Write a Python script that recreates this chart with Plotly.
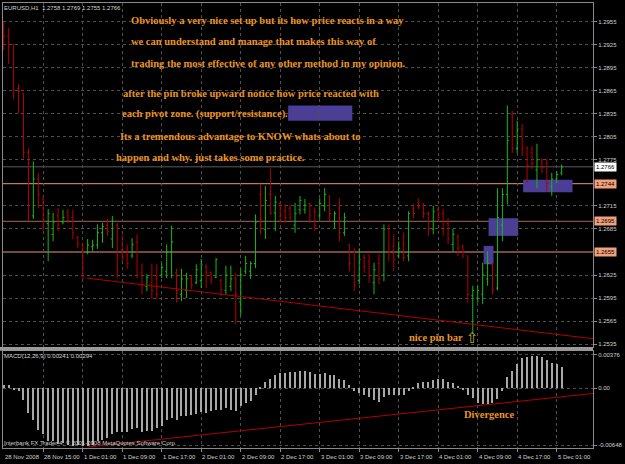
import plotly.graph_objects as go

# ---------------- data ----------------
bars = list(range(114))
opens = [1.2950,1.2936,1.2925,1.2868,1.2862,1.2785,1.2702,1.2750,1.2724,1.2692,
         1.2678,1.2702,1.2694,1.2706,1.2700,1.2674,1.2664,1.2655,1.2662,1.2664,
         1.2680,1.2690,1.2672,1.2690,1.2658,1.2650,1.2650,1.2668,1.2628,1.2610,
         1.2625,1.2620,1.2625,1.2630,1.2655,1.2628,1.2600,1.2605,1.2620,1.2615,
         1.2618,1.2636,1.2628,1.2622,1.2618,1.2605,1.2610,1.2620,1.2590,1.2630,
         1.2630,1.2640,1.2730,1.2684,1.2730,1.2706,1.2718,1.2708,1.2712,1.2690,
         1.2710,1.2710,1.2718,1.2708,1.2702,1.2715,1.2728,1.2695,1.2712,1.2680,
         1.2665,1.2655,1.2618,1.2648,1.2642,1.2615,1.2640,1.2625,1.2685,1.2662,
         1.2650,1.2665,1.2650,1.2712,1.2720,1.2715,1.2705,1.2685,1.2710,1.2705,
         1.2692,1.2665,1.2675,1.2662,1.2650,1.2598,1.2595,1.2600,1.2620,1.2638,
         1.2608,1.2690,1.2730,1.2835,1.2790,1.2815,1.2790,1.2785,1.2762,1.2775,
         1.2770,1.2740,1.2750,1.2758]
highs = [1.2955,1.2947,1.2926,1.2874,1.2862,1.2790,1.2773,1.2758,1.2728,1.2711,
         1.2706,1.2712,1.2710,1.2711,1.2710,1.2676,1.2667,1.2672,1.2671,1.2691,
         1.2693,1.2698,1.2702,1.2693,1.2678,1.2665,1.2673,1.2678,1.2640,1.2626,
         1.2640,1.2639,1.2640,1.2665,1.2689,1.2633,1.2633,1.2628,1.2624,1.2639,
         1.2646,1.2639,1.2630,1.2647,1.2620,1.2637,1.2637,1.2628,1.2633,1.2650,
         1.2643,1.2704,1.2744,1.2741,1.2764,1.2728,1.2721,1.2717,1.2717,1.2719,
         1.2728,1.2724,1.2719,1.2713,1.2725,1.2738,1.2728,1.2708,1.2725,1.2706,
         1.2665,1.2660,1.2660,1.2652,1.2652,1.2641,1.2652,1.2691,1.2691,1.2678,
         1.2669,1.2680,1.2708,1.2717,1.2724,1.2719,1.2708,1.2715,1.2715,1.2711,
         1.2699,1.2685,1.2678,1.2665,1.2650,1.2611,1.2611,1.2641,1.2656,1.2641,
         1.2738,1.2738,1.2846,1.2839,1.2826,1.2822,1.2793,1.2793,1.2796,1.2777,
         1.2777,1.2758,1.2760,1.2769]
lows = [1.2918,1.2900,1.2854,1.2836,1.2777,1.2695,1.2698,1.2712,1.2682,1.2643,
        1.2669,1.2682,1.2691,1.2693,1.2672,1.2660,1.2618,1.2652,1.2656,1.2659,
        1.2667,1.2676,1.2660,1.2622,1.2643,1.2633,1.2647,1.2621,1.2600,1.2604,
        1.2594,1.2594,1.2621,1.2621,1.2621,1.2589,1.2591,1.2595,1.2607,1.2613,
        1.2608,1.2608,1.2613,1.2621,1.2598,1.2600,1.2604,1.2561,1.2572,1.2626,
        1.2620,1.2634,1.2678,1.2672,1.2704,1.2682,1.2693,1.2693,1.2696,1.2680,
        1.2704,1.2705,1.2693,1.2682,1.2698,1.2708,1.2695,1.2686,1.2669,1.2676,
        1.2630,1.2604,1.2613,1.2628,1.2615,1.2600,1.2613,1.2617,1.2643,1.2630,
        1.2647,1.2643,1.2643,1.2699,1.2711,1.2699,1.2676,1.2678,1.2695,1.2676,
        1.2665,1.2656,1.2650,1.2647,1.2589,1.2548,1.2589,1.2587,1.2611,1.2600,
        1.2605,1.2669,1.2717,1.2784,1.2784,1.2780,1.2745,1.2763,1.2738,1.2758,
        1.2734,1.2728,1.2745,1.2755]
closes = [1.2936,1.2925,1.2866,1.2864,1.2785,1.2702,1.2750,1.2730,1.2698,1.2705,
          1.2694,1.2690,1.2700,1.2696,1.2680,1.2666,1.2655,1.2664,1.2664,1.2680,
          1.2688,1.2682,1.2695,1.2650,1.2648,1.2640,1.2665,1.2625,1.2612,1.2622,
          1.2605,1.2600,1.2635,1.2655,1.2668,1.2605,1.2620,1.2620,1.2612,1.2632,
          1.2638,1.2628,1.2620,1.2645,1.2606,1.2625,1.2620,1.2600,1.2625,1.2640,
          1.2640,1.2694,1.2698,1.2722,1.2705,1.2720,1.2702,1.2700,1.2700,1.2705,
          1.2722,1.2716,1.2702,1.2690,1.2718,1.2730,1.2705,1.2705,1.2680,1.2700,
          1.2640,1.2612,1.2645,1.2636,1.2625,1.2632,1.2620,1.2685,1.2655,1.2645,
          1.2660,1.2648,1.2705,1.2705,1.2714,1.2705,1.2685,1.2708,1.2700,1.2685,
          1.2672,1.2678,1.2660,1.2655,1.2600,1.2605,1.2605,1.2625,1.2640,1.2605,
          1.2700,1.2730,1.2800,1.2790,1.2815,1.2790,1.2768,1.2770,1.2775,1.2765,
          1.2745,1.2750,1.2756,1.2766]
macd = [0.0004,0.0004,-0.0001,-0.0003,-0.0013,-0.0028,-0.0036,-0.0047,-0.0052,-0.0059,
        -0.0060,-0.0063,-0.0062,-0.0064,-0.0065,-0.0064,-0.0065,-0.0065,-0.0064,-0.0060,
        -0.0058,-0.0056,-0.0052,-0.0049,-0.0049,-0.0049,-0.0046,-0.0045,-0.0049,-0.0048,
        -0.0048,-0.0045,-0.0042,-0.0036,-0.0034,-0.0036,-0.0031,-0.0031,-0.0030,-0.0029,
        -0.0027,-0.0028,-0.0026,-0.0024,-0.0024,-0.0022,-0.0024,-0.0025,-0.0020,-0.0017,
        -0.0014,-0.0007,0.0001,0.0007,0.0011,0.0015,0.0018,0.0018,0.0019,0.0019,
        0.0020,0.0020,0.0019,0.0016,0.0016,0.0017,0.0015,0.0015,0.0011,0.0010,
        0.0004,-0.0003,-0.0005,-0.0007,-0.0010,-0.0013,-0.0015,-0.0010,-0.0008,-0.0008,
        -0.0008,-0.0008,-0.0003,0.0002,0.0006,0.0007,0.0007,0.0009,0.0011,0.0011,
        0.0007,0.0006,0.0003,-0.0001,-0.0007,-0.0011,-0.0016,-0.0018,-0.0018,-0.0017,
        -0.0012,-0.0003,0.0013,0.0020,0.0028,0.0034,0.0036,0.0037,0.0037,0.0036,
        0.0032,0.0029,0.0028,0.00241]

time_ticks = [0, 8, 16, 24, 32, 40, 48, 56, 64, 72, 80, 88, 96, 104, 112]
time_labels = ["28 Nov 2008", "28 Nov 15:00", "1 Dec 01:00", "1 Dec 09:00", "1 Dec 17:00",
               "2 Dec 01:00", "2 Dec 09:00", "2 Dec 17:00", "3 Dec 01:00", "3 Dec 09:00",
               "3 Dec 17:00", "4 Dec 01:00", "4 Dec 09:00", "4 Dec 17:00", "5 Dec 01:00"]
price_ticks = [1.2955, 1.2925, 1.2895, 1.2865, 1.2835, 1.2805, 1.2775, 1.2715,
               1.2685, 1.2625, 1.2595, 1.2565, 1.2535]
macd_ticks = [0.00376, 0.0, -0.00648]
macd_tick_labels = ["0.00376", "0.00", "-0.00648"]

bid_price = 1.2766
levels = [1.2744, 1.2695, 1.2655]
level_colors = ["#e49a78", "#a06a52", "#e49a78"]

price_trend_bars = [16.8, 119.4]
price_trend_vals = [1.2621, 1.2542]
macd_trend_bars = [17.1, 119.4]
macd_trend_vals = [-0.00666, -0.0006]

# zones: (bar0, bar1, price_low, price_high)
zones = [(57.6, 70.6, 1.2826, 1.2846),
         (97.2, 99.2, 1.2639, 1.2663),
         (98.2, 104.2, 1.2676, 1.2699),
         (105.2, 115.2, 1.2733, 1.2749)]

notes = ["Obviously a very nice set up but its how price reacts in a way",
         "we can understand and manage that makes this way of",
         "trading the most effective of any other method in my opinion.",
         "after the pin broke upward notice how price reacted with",
         "each pivot zone. (support/resistance).",
         "Its a tremendous advantage to KNOW whats about to",
         "happen and why. just takes some practice."]

# ---------------- layout helpers ----------------
W, H = 625, 464
ML, MR, MT, MB = 2, 26, 2, 16
PW, PH = W - ML - MR, H - MT - MB


def px(X):
    return (X - ML) / PW


def py(Y):
    return (H - MB - Y) / PH


ORANGE = "#ea9420"
GRID = "#4e4e4e"
FRAME = "#8a8a8a"
SMALL = dict(family="Liberation Sans", size=6, color="#d0d0d0")

fig = go.Figure()

fig.add_trace(go.Ohlc(x=bars, open=opens, high=highs, low=lows, close=closes,
                      xaxis="x2", yaxis="y2", tickwidth=0.3, hoverinfo="skip",
                      increasing=dict(line=dict(color="#18b818", width=1)),
                      decreasing=dict(line=dict(color="#b80000", width=1))))

fig.add_trace(go.Scatter(x=price_trend_bars, y=price_trend_vals, mode="lines",
                         xaxis="x2", yaxis="y2", line=dict(color="#b00000", width=1),
                         hoverinfo="skip"))

fig.add_trace(go.Bar(x=bars, y=macd, width=0.22, marker=dict(color="#a8a8a8", line=dict(width=0)),
                     xaxis="x", yaxis="y", hoverinfo="skip"))

fig.add_trace(go.Scatter(x=macd_trend_bars, y=macd_trend_vals, mode="lines",
                         xaxis="x", yaxis="y", line=dict(color="#b00000", width=1),
                         hoverinfo="skip"))

shapes = []
# bid line
shapes.append(dict(type="line", xref="x2 domain", yref="y2", x0=0, x1=1, y0=bid_price, y1=bid_price,
                   line=dict(color="#5a5a5a", width=1), layer="below"))
for lv, c in zip(levels, level_colors):
    shapes.append(dict(type="line", xref="x2 domain", yref="y2", x0=0, x1=1, y0=lv, y1=lv,
                       line=dict(color=c, width=1), layer="below"))
for b0, b1, p0, p1 in zones:
    shapes.append(dict(type="rect", xref="x2", yref="y2", x0=b0, x1=b1, y0=p0, y1=p1,
                       fillcolor="#4a3e98", line=dict(width=0), layer="below"))
# separator band between panes
shapes.append(dict(type="rect", xref="paper", yref="paper", x0=-0.01, x1=1.0,
                   y0=py(350.5), y1=py(346.8), fillcolor="#9a9a9a", line=dict(width=0)))

annotations = []
# time labels
for t, lab in zip(time_ticks, time_labels):
    annotations.append(dict(x=t, y=py(457), xref="x", yref="paper", text=lab, showarrow=False,
                            xanchor="left", yanchor="middle", font=SMALL, borderpad=0))
# header texts
annotations.append(dict(x=px(2), y=py(7), xref="paper", yref="paper",
                        text="EURUSD,H1  1.2758 1.2769 1.2755 1.2766", showarrow=False,
                        xanchor="left", yanchor="middle", font=SMALL, borderpad=0))
annotations.append(dict(x=px(2), y=py(356), xref="paper", yref="paper",
                        text="MACD(12,26,9) 0.00241 0.00294", showarrow=False,
                        xanchor="left", yanchor="middle", font=SMALL, borderpad=0))
annotations.append(dict(x=px(2), y=py(443), xref="paper", yref="paper",
                        text="Interbank FX Trader 4, © 2001-2008 MetaQuotes Software Corp.",
                        showarrow=False, xanchor="left", yanchor="middle", font=SMALL, borderpad=0))
# price boxes on axis
annotations.append(dict(x=1, y=bid_price, xref="paper", yref="y2", text=f"{bid_price:.4f}",
                        showarrow=False, xanchor="left", yanchor="middle", xshift=1,
                        bgcolor="#ffffff", font=dict(family="Liberation Sans", size=6, color="#000000"),
                        borderpad=1))
for lv in levels:
    annotations.append(dict(x=1, y=lv, xref="paper", yref="y2", text=f"{lv:.4f}",
                            showarrow=False, xanchor="left", yanchor="middle", xshift=1,
                            bgcolor="#f2a07c", font=dict(family="Liberation Sans", size=6, color="#000000"),
                            borderpad=1))
# orange notes
note_pos = [(130, 19.5), (130, 40.8), (130, 62.3), (121, 92.3), (120, 113.3), (118, 135.3), (114, 156.7)]
NOTE_FONT = dict(family="Liberation Serif", size=10.5, color=ORANGE, weight="bold")
for txt, (X, Y) in zip(notes, note_pos):
    annotations.append(dict(x=px(X), y=py(Y), xref="paper", yref="paper", text=txt,
                            showarrow=False, xanchor="left", yanchor="middle", font=NOTE_FONT))
annotations.append(dict(x=px(411), y=py(337.3), xref="paper", yref="paper", text="nice pin bar",
                        showarrow=False, xanchor="left", yanchor="middle", font=NOTE_FONT))
annotations.append(dict(x=px(466), y=py(414), xref="paper", yref="paper", text="Divergence",
                        showarrow=False, xanchor="left", yanchor="middle", font=NOTE_FONT))
annotations.append(dict(x=95, y=py(338), xref="x2", yref="paper", text="⇧",
                        showarrow=False, xanchor="center", yanchor="middle",
                        font=dict(family="DejaVu Sans", size=15, color="#b8ac2c")))

axis_common = dict(showgrid=True, gridcolor=GRID, griddash="dot", gridwidth=1,
                   showline=True, linecolor=FRAME, linewidth=1, mirror=True,
                   zeroline=False, fixedrange=True)

fig.update_layout(
    width=W, height=H, margin=dict(l=ML, r=MR, t=MT, b=MB),
    paper_bgcolor="#000000", plot_bgcolor="#000000", showlegend=False,
    bargap=0,
    xaxis=dict(domain=[0, 1], range=[-0.15, 119.35], anchor="y",
               tickvals=time_ticks[1:], showticklabels=False, ticks="outside", ticklen=3,
               tickcolor=FRAME, rangeslider=dict(visible=False), **axis_common),
    xaxis2=dict(domain=[0, 1], range=[-0.15, 119.35], anchor="y2", matches="x",
                tickvals=time_ticks[1:], showticklabels=False, ticks="",
                rangeslider=dict(visible=False), **axis_common),
    yaxis=dict(domain=[0, py(350.5)], range=[-0.00678, 0.00424], side="right", anchor="x",
               tickvals=macd_ticks, ticktext=macd_tick_labels, ticks="outside", ticklen=3,
               tickcolor=FRAME, tickfont=SMALL, **axis_common),
    yaxis2=dict(domain=[py(346.8), 1], range=[1.25312, 1.29794], side="right", anchor="x2",
                tickvals=price_ticks, ticktext=[f"{p:.4f}" for p in price_ticks],
                ticks="outside", ticklen=3, tickcolor=FRAME, tickfont=SMALL, **axis_common),
    shapes=shapes, annotations=annotations,
)

fig.write_html("out.html")
